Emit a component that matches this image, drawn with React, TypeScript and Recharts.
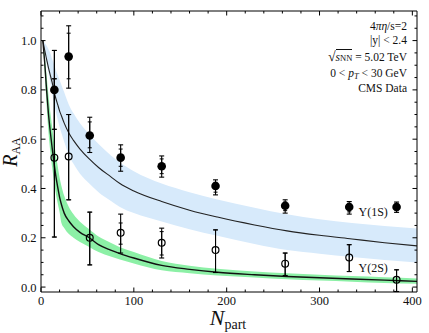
import React from 'react';
import {
  ComposedChart, Line, Area, Scatter, XAxis, YAxis, ErrorBar, ReferenceDot,
} from 'recharts';

// ---- model curves (sampled along N_part) ----
const NPART = [2, 4, 6, 8, 10, 12, 14, 16, 18, 20, 22, 25, 30, 35, 42, 52, 62, 75, 85, 100, 130, 160, 190, 230, 265, 300, 335, 370, 405];
const U1_MID = [1.0, 0.96, 0.925, 0.89, 0.86, 0.83, 0.795, 0.765, 0.74, 0.715, 0.695, 0.665, 0.625, 0.595, 0.56, 0.52, 0.485, 0.448, 0.42, 0.39, 0.347, 0.312, 0.284, 0.252, 0.228, 0.21, 0.195, 0.18, 0.167];
const U1_HI = [1.0, 0.99, 0.98, 0.965, 0.95, 0.925, 0.905, 0.88, 0.86, 0.84, 0.82, 0.79, 0.74, 0.705, 0.665, 0.62, 0.58, 0.535, 0.505, 0.47, 0.42, 0.385, 0.355, 0.322, 0.295, 0.275, 0.26, 0.248, 0.238];
const U1_LO = [1.0, 0.95, 0.91, 0.87, 0.83, 0.785, 0.745, 0.71, 0.68, 0.65, 0.625, 0.59, 0.535, 0.5, 0.46, 0.42, 0.385, 0.35, 0.325, 0.3, 0.266, 0.235, 0.208, 0.175, 0.15, 0.135, 0.122, 0.11, 0.1];
const U2_MID = [1.0, 0.91, 0.8, 0.705, 0.63, 0.565, 0.505, 0.45, 0.405, 0.365, 0.335, 0.3, 0.268, 0.245, 0.222, 0.2, 0.172, 0.15, 0.136, 0.118, 0.088, 0.072, 0.06, 0.05, 0.043, 0.038, 0.033, 0.028, 0.023];
const U2_HI = [1.0, 0.94, 0.86, 0.78, 0.71, 0.65, 0.59, 0.54, 0.49, 0.445, 0.41, 0.37, 0.325, 0.295, 0.265, 0.235, 0.205, 0.18, 0.162, 0.142, 0.106, 0.087, 0.074, 0.063, 0.056, 0.05, 0.045, 0.04, 0.035];
const U2_LO = [1.0, 0.87, 0.74, 0.63, 0.55, 0.485, 0.43, 0.38, 0.34, 0.305, 0.26, 0.24, 0.215, 0.2, 0.183, 0.163, 0.142, 0.124, 0.112, 0.096, 0.068, 0.056, 0.047, 0.039, 0.032, 0.027, 0.022, 0.017, 0.013];

// ---- CMS data ----
const NPART_DATA = [14.4, 29.8, 52.5, 85.8, 130, 188, 263, 332, 383];
const Y1S = [0.8, 0.935, 0.615, 0.525, 0.49, 0.41, 0.33, 0.325, 0.325];
const Y1S_LO = [0.64, 0.807, 0.546, 0.47, 0.446, 0.374, 0.3, 0.296, 0.303];
const Y1S_HI = [0.96, 1.06, 0.689, 0.577, 0.532, 0.435, 0.354, 0.347, 0.345];
const Y1S_ILO = [0.64, 0.845, 0.565, 0.49, 0.46, 0.385, 0.31, 0.305, 0.31];
const Y1S_IHI = [0.96, 1.03, 0.67, 0.56, 0.52, 0.425, 0.345, 0.34, 0.34];
const Y2S = [0.525, 0.53, 0.2, 0.22, 0.18, 0.15, 0.095, 0.12, 0.03];
const Y2S_LO = [0.203, 0.354, 0.09, 0.138, 0.118, 0.059, 0.047, 0.063, -0.018];
const Y2S_HI = [0.845, 0.7, 0.304, 0.296, 0.239, 0.232, 0.138, 0.172, 0.07];
const Y2S_ILO = [0.203, 0.354, 0.09, 0.174, 0.13, 0.059, 0.047, 0.063, -0.018];
const Y2S_IHI = [0.845, 0.7, 0.304, 0.26, 0.225, 0.232, 0.138, 0.172, 0.07];

// ---- ticks ----
const X_MAJOR = [0, 100, 200, 300, 400];
const X_TICKS = [0, 20, 40, 60, 80, 100, 120, 140, 160, 180, 200, 220, 240, 260, 280, 300, 320, 340, 360, 380, 400];
const Y_MAJOR = [0, 0.2, 0.4, 0.6, 0.8, 1.0];
const Y_TICKS = [0, 0.05, 0.1, 0.15, 0.2, 0.25, 0.3, 0.35, 0.4, 0.45, 0.5, 0.55, 0.6, 0.65, 0.7, 0.75, 0.8, 0.85, 0.9, 0.95, 1.0, 1.05, 1.1];

const curveData = NPART.map((n, i) => ({
  n,
  m1: U1_MID[i],
  b1: [U1_LO[i], U1_HI[i]],
  m2: U2_MID[i],
  b2: [U2_LO[i], U2_HI[i]],
}));

const ups1 = NPART_DATA.map((n, i) => ({
  n, y: Y1S[i],
  e: [Y1S[i] - Y1S_LO[i], Y1S_HI[i] - Y1S[i]],
  ei: [Y1S[i] - Y1S_ILO[i], Y1S_IHI[i] - Y1S[i]],
}));
const ups2 = NPART_DATA.map((n, i) => ({
  n, y: Y2S[i],
  e: [Y2S[i] - Y2S_LO[i], Y2S_HI[i] - Y2S[i]],
  ei: [Y2S[i] - Y2S_ILO[i], Y2S_IHI[i] - Y2S[i]],
}));

const SERIF = '"Liberation Serif", "DejaVu Serif", serif';
const TM = 4;
const TXT = '#111';
const isIn = (v: number, arr: number[]) => arr.some((a) => Math.abs(a - v) < 1e-6);

const LeftTick = (p: any) => {
  const v = p.payload.value;
  const major = isIn(v, Y_MAJOR);
  const edge = p.x + TM;
  return (
    <g>
      <line x1={edge} x2={edge + (major ? 4.5 : 2.5)} y1={p.y} y2={p.y} stroke="#000" strokeWidth={1} />
      {major && (
        <text x={p.x - 0.5} y={p.y} dy="0.36em" textAnchor="end" fontFamily={SERIF} fontSize={12.5} fill={TXT}>
          {v.toFixed(1)}
        </text>
      )}
    </g>
  );
};
const RightTick = (p: any) => {
  const v = p.payload.value;
  const major = isIn(v, Y_MAJOR);
  return <line x1={p.x} x2={p.x - (major ? 4.5 : 2.5)} y1={p.y} y2={p.y} stroke="#000" strokeWidth={1} />;
};
const BottomTick = (p: any) => {
  const v = p.payload.value;
  const major = isIn(v, X_MAJOR);
  const edge = p.y - TM;
  return (
    <g>
      <line x1={p.x} x2={p.x} y1={edge} y2={edge - (major ? 4.5 : 2.5)} stroke="#000" strokeWidth={1} />
      {major && (
        <text x={p.x} y={edge + 3} dy="0.8em" textAnchor="middle" fontFamily={SERIF} fontSize={12.5} fill={TXT}>
          {String(v)}
        </text>
      )}
    </g>
  );
};
const TopTick = (p: any) => {
  const v = p.payload.value;
  const major = isIn(v, X_MAJOR);
  return <line x1={p.x} x2={p.x} y1={p.y} y2={p.y + (major ? 4.5 : 2.5)} stroke="#000" strokeWidth={1} />;
};

const FilledDot = (p: any) => <circle cx={p.cx} cy={p.cy} r={4.3} fill="#000" />;
const OpenDot = (p: any) => <circle cx={p.cx} cy={p.cy} r={3.4} fill="none" stroke="#000" strokeWidth={1.2} />;

const upsLabel = (text: string) => (props: any) => {
  const vb = props.viewBox || {};
  const cx = vb.cx ?? vb.x;
  const cy = vb.cy ?? vb.y;
  return (
    <text x={cx} y={cy} dy="0.35em" textAnchor="start" fontFamily={SERIF} fontSize={12} fill={TXT}>
      {text}
    </text>
  );
};

export default function App() {
  return (
    <div style={{ position: 'absolute', left: 0, top: 0, width: 429, height: 333, background: '#fff' }}>
      <ComposedChart
        width={429}
        height={333}
        data={curveData}
        margin={{ top: 10, right: 11, bottom: 1, left: 0 }}
      >
        <XAxis
          xAxisId="b" dataKey="n" type="number" domain={[0, 405]} allowDataOverflow
          ticks={X_TICKS} interval={0} tickSize={0} tickMargin={TM} tickLine={false}
          axisLine={{ stroke: '#000', strokeWidth: 1 }} height={40} tick={<BottomTick />}
        />
        <XAxis
          xAxisId="t" orientation="top" dataKey="n" type="number" domain={[0, 405]} allowDataOverflow
          ticks={X_TICKS} interval={0} tickSize={0} tickMargin={0} tickLine={false}
          axisLine={{ stroke: '#000', strokeWidth: 1 }} height={1} tick={<TopTick />}
        />
        <YAxis
          yAxisId="l" type="number" domain={[-0.02, 1.12]} allowDataOverflow
          ticks={Y_TICKS} interval={0} tickSize={0} tickMargin={TM} tickLine={false}
          axisLine={{ stroke: '#000', strokeWidth: 1 }} width={41} tick={<LeftTick />}
        />
        <YAxis
          yAxisId="r" orientation="right" type="number" domain={[-0.02, 1.12]} allowDataOverflow
          ticks={Y_TICKS} interval={0} tickSize={0} tickMargin={0} tickLine={false}
          axisLine={{ stroke: '#000', strokeWidth: 1 }} width={1} tick={<RightTick />}
        />

        <Area xAxisId="b" yAxisId="l" type="monotone" dataKey="b1" stroke="none" fill="#d7eafb" fillOpacity={1} isAnimationActive={false} />
        <Area xAxisId="b" yAxisId="l" type="monotone" dataKey="b2" stroke="none" fill="#8cf0a6" fillOpacity={1} isAnimationActive={false} />
        <Line xAxisId="b" yAxisId="l" type="monotone" dataKey="m1" stroke="#222" strokeWidth={1.1} dot={false} isAnimationActive={false} />
        <Line xAxisId="b" yAxisId="l" type="monotone" dataKey="m2" stroke="#111" strokeWidth={1.4} dot={false} isAnimationActive={false} />

        <Scatter xAxisId="b" yAxisId="l" data={ups1} dataKey="y" shape={<FilledDot />} isAnimationActive={false}>
          <ErrorBar dataKey="e" direction="y" width={2.5} stroke="#000" strokeWidth={1.1} isAnimationActive={false} />
          <ErrorBar dataKey="ei" direction="y" width={2} stroke="#000" strokeWidth={1} isAnimationActive={false} />
        </Scatter>
        <Scatter xAxisId="b" yAxisId="l" data={ups2} dataKey="y" shape={<OpenDot />} isAnimationActive={false}>
          <ErrorBar dataKey="e" direction="y" width={2.5} stroke="#000" strokeWidth={1.1} isAnimationActive={false} />
          <ErrorBar dataKey="ei" direction="y" width={2} stroke="#000" strokeWidth={1} isAnimationActive={false} />
        </Scatter>

        <ReferenceDot xAxisId="b" yAxisId="l" x={342} y={0.305} r={0} stroke="none" label={upsLabel('Υ(1S)')} />
        <ReferenceDot xAxisId="b" yAxisId="l" x={342} y={0.078} r={0} stroke="none" label={upsLabel('Υ(2S)')} />
      </ComposedChart>

      {/* annotation block */}
      <div style={{ position: 'absolute', right: 429 - 407, top: 19, textAlign: 'right', fontFamily: SERIF, fontSize: 11.5, color: TXT, lineHeight: '14px', whiteSpace: 'nowrap' }}>
        <div>4<i>πη</i>/s=2</div>
        <div>|y| &lt; 2.4</div>
        <div style={{ marginTop: 3, marginBottom: 1 }}>
          <span style={{ fontSize: 14 }}>√</span>
          <span style={{ borderTop: '1px solid #111', paddingTop: 1 }}><i>s</i><span style={{ fontSize: 8.5 }}>NN</span></span>
          {' '}= 5.02 TeV
        </div>
        <div>0 &lt; <i>p</i><sub style={{ fontSize: 8.5, fontStyle: 'italic', verticalAlign: '-2px', lineHeight: 1 }}>T</sub> &lt; 30 GeV</div>
        <div>CMS Data</div>
      </div>

      {/* y axis label */}
      <div style={{ position: 'absolute', left: 11, top: 152, transform: 'translate(-50%, -50%) rotate(-90deg)', fontFamily: SERIF, color: TXT, whiteSpace: 'nowrap', lineHeight: 1 }}>
        <i style={{ fontSize: 20, lineHeight: 1 }}>R</i><span style={{ fontSize: 12, verticalAlign: '-3px', lineHeight: 1 }}>AA</span>
      </div>

      {/* x axis label */}
      <div style={{ position: 'absolute', left: 228, top: 319, transform: 'translate(-50%, -50%)', fontFamily: SERIF, color: TXT, whiteSpace: 'nowrap', lineHeight: 1 }}>
        <i style={{ fontSize: 22, lineHeight: 1 }}>N</i><span style={{ fontSize: 14, verticalAlign: '-4px', lineHeight: 1 }}>part</span>
      </div>
    </div>
  );
}
